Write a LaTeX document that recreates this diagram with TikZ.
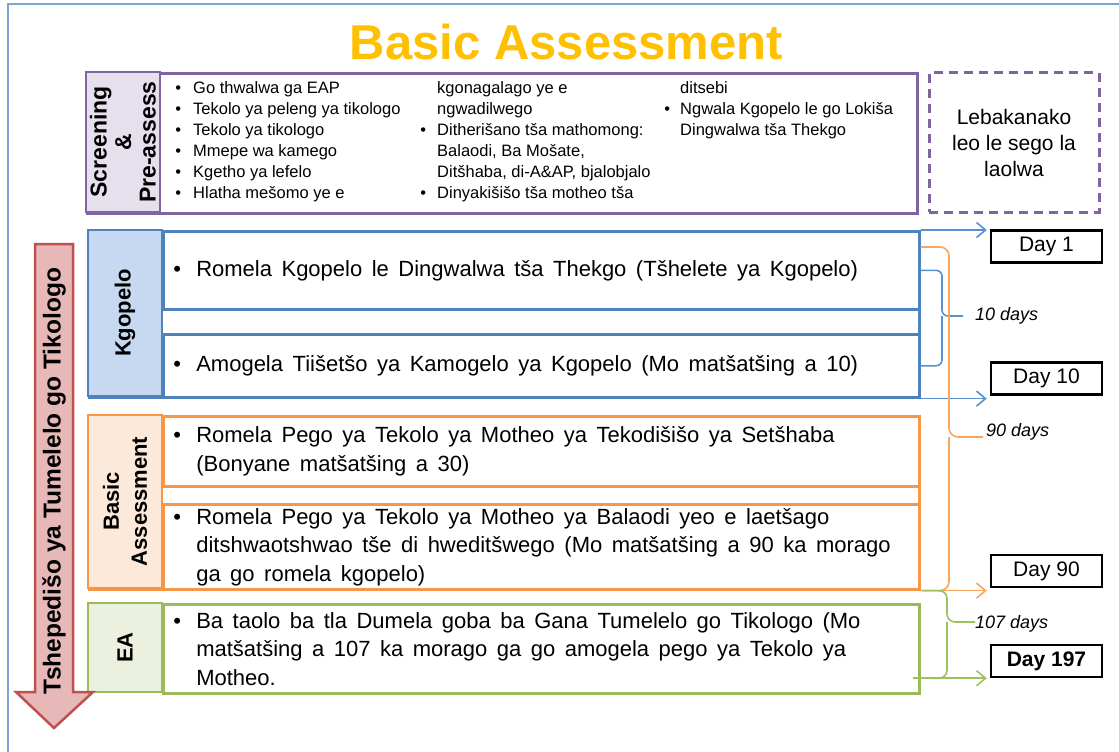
\documentclass[tikz,border=0pt]{standalone}
\usepackage{fontspec}
\setmainfont{Liberation Sans}
\usetikzlibrary{arrows.meta,calc}
\definecolor{purp}{HTML}{8064A2}
\definecolor{purpfill}{HTML}{E5E0EC}
\definecolor{blu}{HTML}{4F81BD}
\definecolor{blufill}{HTML}{C6D9F1}
\definecolor{orn}{HTML}{F79646}
\definecolor{ornfill}{HTML}{FDE9D9}
\definecolor{grn}{HTML}{9BBB59}
\definecolor{grnfill}{HTML}{EBF1DE}
\definecolor{redb}{HTML}{C0504D}
\definecolor{redfill}{HTML}{E6B9B8}
\definecolor{framec}{HTML}{7BA3D6}
\definecolor{titlec}{HTML}{FFC000}
\definecolor{bluln}{HTML}{5A8FD2}
\definecolor{ornln}{HTML}{F9A55A}
\definecolor{grnln}{HTML}{9BC25A}
\newcommand{\wsp}{\spaceskip 9.5pt plus 1pt\relax}
\newcommand{\bul}{\wsp\makebox[23pt][l]{\textbullet}}
\newcommand{\ind}{\hspace*{23pt}}
\tikzset{
  grpframe/.style={draw=#1, line width=2.8pt, anchor=north west, inner sep=0pt, minimum width=830pt},
  grplabel/.style={draw=#1, line width=2.8pt, rotate=90, inner sep=0pt, minimum height=74pt,
    font=\fontsize{22}{28}\selectfont\bfseries, align=center},
  itembox/.style={draw=#1, line width=2.6pt, anchor=north west, minimum width=756pt,
    inner xsep=10pt, inner ysep=0pt, text width=736pt, align=left,
    font=\fontsize{22}{28.5}\selectfont},
  sccol/.style={anchor=north west, inner sep=0pt, align=left,
    font=\fontsize{16.5}{21}\selectfont},
  daybox/.style={draw=black, line width=2.5pt, minimum width=111pt, minimum height=32pt,
    inner sep=0pt, font=\fontsize{21}{24}\selectfont},
  dayslabel/.style={anchor=west, inner sep=0pt, font=\fontsize{18}{20}\selectfont\itshape},
  brc/.style={draw=#1, line width=1.6pt, rounded corners=6pt},
  tarrow/.style={draw=#1, line width=1.6pt, -{Straight Barb[length=9pt,width=15pt]}, shorten >=3pt},
}
\begin{document}
\begin{tikzpicture}[x=1pt,y=-1pt]
\useasboundingbox (0,0) rectangle (1119,752);
\fill[white] (0,0) rectangle (1119,752);
\draw[framec, line width=1.6pt] (8,752) -- (8,4) -- (1119,4);

% title
\node[font=\fontsize{49}{55}\selectfont\bfseries, text=titlec, inner sep=0pt] (title) at (566.5,42) {Basic Assessment};

% screening
\node[grpframe=purp, minimum height=140pt] (scF) at (86,72) {};
\node[grplabel=purp, fill=purpfill, minimum width=140pt, font=\fontsize{23}{24.5}\selectfont\bfseries] (scL) at (123,142) {Screening\\\&\\Pre-assess};
\node[sccol] (sc1) at (193,81) {\llap{\textbullet\hspace{12pt}}Go thwalwa ga EAP\\
\llap{\textbullet\hspace{12pt}}Tekolo ya peleng ya tikologo\\
\llap{\textbullet\hspace{12pt}}Tekolo ya tikologo\\
\llap{\textbullet\hspace{12pt}}Mmepe wa kamego\\
\llap{\textbullet\hspace{12pt}}Kgetho ya lefelo\\
\llap{\textbullet\hspace{12pt}}Hlatha mešomo ye e};
\node[sccol] (sc2) at (437,81) {kgonagalago ye e\\
ngwadilwego\\
\llap{\textbullet\hspace{11pt}}Ditherišano tša mathomong:\\
Balaodi, Ba Mošate,\\
Ditšhaba, di-A\&AP, bjalobjalo\\
\llap{\textbullet\hspace{11pt}}Dinyakišišo tša motheo tša};
\node[sccol] (sc3) at (680,81) {ditsebi\\
\llap{\textbullet\hspace{10pt}}Ngwala Kgopelo le go Lokiša\\
Dingwalwa tša Thekgo};

% dashed box
\node[draw=purp, line width=3pt, dash pattern=on 9pt off 6pt, minimum width=170pt, minimum height=139pt,
  align=center, font=\fontsize{21}{26}\selectfont] (gap) at (1014,142.5) {Lebakanako\\leo le sego la\\laolwa};

% Kgopelo group
\node[grpframe=blu, minimum height=166pt] (kgF) at (88,230) {};
\node[grplabel=blu, fill=blufill, minimum width=166pt] (kgL) at (125,313) {Kgopelo};
\node[itembox=blu, minimum height=78pt] (kgB1) at (162,230) {\bul Romela Kgopelo le Dingwalwa tša Thekgo (Tšhelete ya Kgopelo)};
\node[itembox=blu, minimum height=63pt] (kgB2) at (162,333) {\bul Amogela Tiišetšo ya Kamogelo ya Kgopelo (Mo matšatšing a 10)};

% Basic Assessment group
\node[grpframe=orn, minimum height=173pt] (baF) at (88,415) {};
\node[grplabel=orn, fill=ornfill, minimum width=173pt] (baL) at (125,501.5) {Basic\\Assessment};
\node[itembox=orn, minimum height=70pt] (baB1) at (162,415) {\bul Romela Pego ya Tekolo ya Motheo ya Tekodišišo ya Setšhaba\\
\ind(Bonyane matšatšing a 30)};
\node[itembox=orn, minimum height=85pt] (baB2) at (162,503) {\bul Romela Pego ya Tekolo ya Motheo ya Balaodi yeo e laetšago\\
\ind ditshwaotshwao tše di hweditšwego (Mo matšatšing a 90 ka morago\\
\ind ga go romela kgopelo)};

% EA group
\node[itembox=grn, minimum height=89pt] (eaB) at (162,603) {\bul Ba taolo ba tla Dumela goba ba Gana Tumelelo go Tikologo (Mo\\
\ind matšatšing a 107 ka morago ga go amogela pego ya Tekolo ya\\
\ind Motheo.};
\node[grplabel=grn, fill=grnfill, minimum width=89pt] (eaL) at (125,647.5) {EA};

% red process arrow
\draw[draw=redb, fill=redfill, line width=2.5pt, line join=miter]
  (35,244) -- (73,244) -- (73,692) -- (93,692) -- (54,728) -- (16,692) -- (35,692) -- cycle;
\node[rotate=90, font=\fontsize{24.5}{26}\selectfont\bfseries, inner sep=0pt] (flow) at (54,481) {Tshepedišo ya Tumelelo go Tikologo};

% day boxes
\node[daybox] (day1) at (1046.5,246.5) {Day 1};
\node[daybox] (day10) at (1046.5,378.5) {Day 10};
\node[daybox] (day90) at (1046.5,571) {Day 90};
\node[daybox, font=\fontsize{21}{24}\selectfont\bfseries] (day197) at (1046.5,661) {Day 197};

% arrows to days
\draw[tarrow=bluln] (kgB1.north east) -- (kgB1.north east -| day1.west);
\draw[tarrow=bluln] (kgB2.south east) -- (kgB2.south east -| day10.west);
\draw[tarrow=ornln] (baB2.south east) -- (baB2.south east -| day90.west);
\draw[tarrow=grnln] ([xshift=-8pt]eaB.east |- day197.south) -- (day197.south west);

% braces
\coordinate (tip10) at (963,316);
\draw[brc=bluln] (kgB1.east) -| ([xshift=-21pt]tip10) -- (tip10);
\draw[brc=bluln] (kgB2.east) -| ([xshift=-21pt]tip10);
\node[dayslabel] (l10) at (975,316) {10 days};

\coordinate (tip90) at (983,437);
\draw[brc=ornln, rounded corners=9pt] ([yshift=-17pt]kgB1.north east) -| ([xshift=-34pt]tip90) -- (tip90);
\draw[brc=ornln, rounded corners=9pt] (baB2.south east) -| ([xshift=-34pt]tip90);
\node[dayslabel] (l90) at (986,432) {90 days};

\coordinate (tip107) at (975,622);
\draw[brc=grnln, rounded corners=8pt] ([xshift=2pt]baB2.south east) -| ([xshift=-28pt]tip107) -- (tip107);
\draw[brc=grnln, rounded corners=8pt] ([xshift=12pt]eaB.east |- day197.south) -| ([xshift=-28pt]tip107);
\node[dayslabel] (l107) at (975,624) {107 days};
\end{tikzpicture}
\end{document}
